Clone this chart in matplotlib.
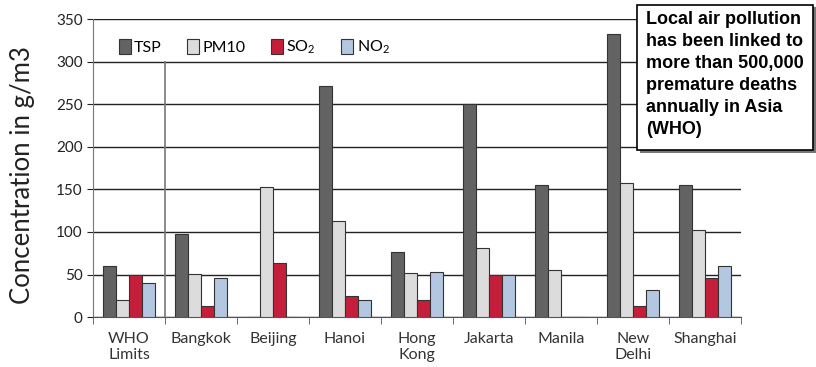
import numpy as np
import matplotlib.pyplot as plt
from matplotlib.patches import Rectangle

cities = ["WHO\nLimits", "Bangkok", "Beijing", "Hanoi", "Hong\nKong",
          "Jakarta", "Manila", "New\nDelhi", "Shanghai"]
tsp  = [60, 97, 0, 271, 76, 250, 155, 333, 155]
pm10 = [20, 51, 153, 113, 52, 81, 55, 157, 102]
so2  = [50, 13, 63, 25, 20, 49, 0, 13, 46]
no2  = [40, 46, 0, 20, 53, 50, 0, 32, 60]

series = [("TSP", tsp, "#636363"),
          ("PM10", pm10, "#dcdcdc"),
          (r"SO$_2$", so2, "#c41e3a"),
          (r"NO$_2$", no2, "#b4c7e0")]

plt.rcParams['font.family'] = ['Lato', 'DejaVu Sans']
plt.rcParams['mathtext.fontset'] = 'custom'
plt.rcParams['mathtext.rm'] = 'Lato'
plt.rcParams['mathtext.it'] = 'Lato'

fig = plt.figure(figsize=(8.16, 3.67), dpi=100)
ax = fig.add_axes([0.114, 0.136, 0.794, 0.812])

x = np.arange(len(cities))
w = 0.18
for i, (name, vals, col) in enumerate(series):
    pos = x + (i - 1.5) * w
    ax.bar(pos, vals, width=w, color=col, edgecolor="#333333",
           linewidth=0.8, label=name, zorder=3)

ax.set_xlim(-0.5, len(cities) - 0.5)
ax.set_ylim(0, 350)
ax.set_yticks(range(0, 351, 50))
ax.yaxis.grid(True, color="#222222", linewidth=1, zorder=0)
ax.set_axisbelow(True)

# category boundary ticks and WHO separator
ax.set_xticks(x)
ax.set_xticklabels(cities, fontsize=11.5, color="#333333", linespacing=1.15,
                   va="top")
ax.set_xticks(np.arange(-0.5, len(cities)), minor=True)
ax.tick_params(axis="x", which="major", length=0, pad=11)
ax.tick_params(axis="x", which="minor", length=5, color="#555555")
ax.tick_params(axis="y", length=4, labelsize=11, colors="#222222")
ax.plot([0.5, 0.5], [0, 300], color="#777777", linewidth=1.2, zorder=2)

for s in ["top", "right"]:
    ax.spines[s].set_visible(False)
ax.spines["left"].set_color("#777777")
ax.spines["bottom"].set_color("#555555")

ax.set_ylabel("Concentration in g/m3", fontsize=18.5, color="#222222")
ax.yaxis.set_label_coords(-0.09, 0.476)

ax.legend(loc="upper left", bbox_to_anchor=(0.03, 0.955), ncol=4, frameon=False,
          fontsize=11.5, handlelength=0.75, handleheight=1.0, handletextpad=0.2,
          columnspacing=1.6, borderaxespad=0)

# note box with drop shadow
fig.patches.append(Rectangle((640 / 816, 1 - 153 / 367), 176 / 816, 146 / 367,
                             transform=fig.transFigure, facecolor="#777777",
                             edgecolor="none", zorder=5))
fig.patches.append(Rectangle((637 / 816, 1 - 150 / 367), 176 / 816, 145 / 367,
                             transform=fig.transFigure, facecolor="white",
                             edgecolor="black", linewidth=1.2, zorder=6))
fig.text(646 / 816, 1 - 11 / 367,
         "Local air pollution\nhas been linked to\nmore than 500,000\n"
         "premature deaths\nannually in Asia\n(WHO)",
         family="Liberation Sans", fontweight="bold", fontsize=13,
         va="top", ha="left", linespacing=1.38, zorder=7)

fig.savefig("out.png", dpi=100)
